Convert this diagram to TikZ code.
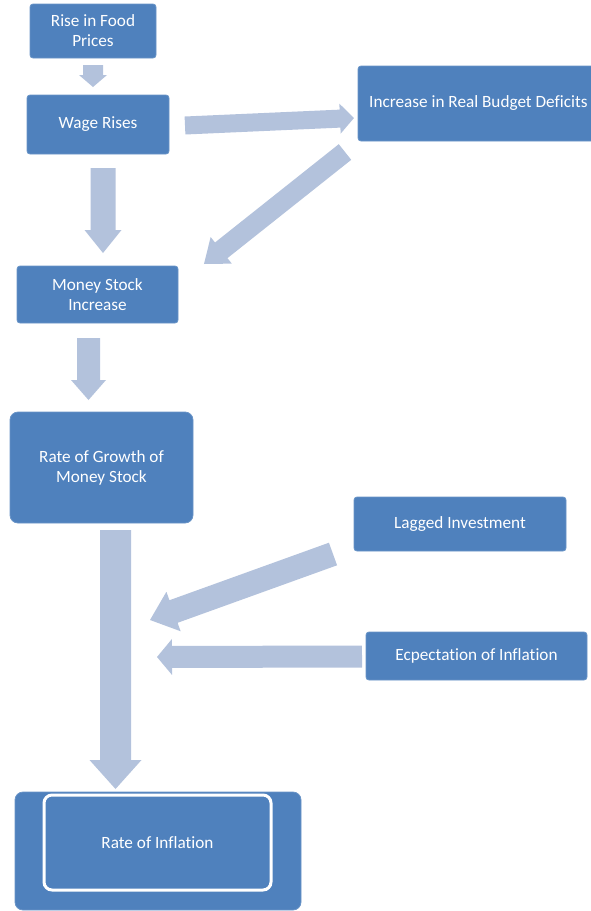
\documentclass[tikz,border=0pt]{standalone}
\usepackage{fontspec}
\setmainfont{Carlito}[Ligatures=NoCommon]
\usetikzlibrary{calc}
\definecolor{boxc}{HTML}{4F81BD}
\definecolor{arrowc}{HTML}{B3C2DC}
\newcommand\blockarrow[5]{%
  \fill[arrowc] let \p1=(#1), \p2=(#2),
    \n1={atan2(\y2-\y1,\x2-\x1)}, \n2={veclen(\x2-\x1,\y2-\y1)} in
    [shift={(\p1)}, rotate=\n1]
    (0pt,-#3pt) -- ({\n2*1pt-#5pt},-#3pt) -- ({\n2*1pt-#5pt},-#4pt) --
    ({\n2*1pt},0pt) -- ({\n2*1pt-#5pt},#4pt) -- ({\n2*1pt-#5pt},#3pt) --
    (0pt,#3pt) -- cycle;}
\begin{document}
\begin{tikzpicture}[x=1pt,y=-1pt,
  box/.style={fill=boxc, draw=boxc!85!white, line width=0.8pt, rounded corners=3pt,
    text=white, font=\fontsize{17.2}{20}\selectfont, align=center, inner sep=0pt},
  lbl/.style={text=white, font=\fontsize{17.2}{20}\selectfont, align=center, inner sep=0pt}]
\useasboundingbox (0,0) rectangle (591,911);

\node[box, minimum width=126pt, minimum height=54pt] (food) at (93,31) {Rise in Food\\Prices};
\node[box, minimum width=142pt, minimum height=59pt] (wage) at (98,124.5) {Wage Rises};
\node[box, minimum width=242pt, minimum height=75pt] (deficit) at (479,103.5) {};
\node[lbl, anchor=west] (deficitt) at (369,103) {Increase in Real Budget Deficits};
\node[box, minimum width=161pt, minimum height=57pt] (money) at (97.5,294.5) {Money Stock\\Increase};
\node[box, rounded corners=8pt, minimum width=183pt, minimum height=111pt] (growth) at (101.5,467.5) {Rate of Growth of\\Money Stock};
\node[box, minimum width=212pt, minimum height=54pt] (lagged) at (460,524) {Lagged Investment};
\node[box, minimum width=221pt, minimum height=48pt] (expect) at (476.5,656) {Ecpectation of Inflation};
\node[box, rounded corners=8pt, minimum width=286pt, minimum height=118pt] (inflout) at (158,851) {};
\node[box, draw=white, line width=3pt, rounded corners=8pt, minimum width=227pt, minimum height=95pt] (infl) at (157.5,842.5) {Rate of Inflation};

\coordinate (a1s) at (93,65);   \coordinate (a1e) at (93,87);
\coordinate (a2s) at (103,168); \coordinate (a2e) at (103,253);
\coordinate (a3s) at (185,125.5); \coordinate (a3e) at (354,118);
\coordinate (a4s) at (345,152); \coordinate (a4e) at (204,264);
\coordinate (a8s) at (88.5,338); \coordinate (a8e) at (88.5,400);
\coordinate (a5s) at (115.5,530); \coordinate (a5e) at (115.5,789);
\coordinate (a6s) at (333,554); \coordinate (a6e) at (150,620);
\coordinate (a7s) at (362,656.5); \coordinate (a7e) at (157,657);

\blockarrow{a1s}{a1e}{10}{14}{12}
\blockarrow{a2s}{a2e}{12.5}{18.5}{23}
\blockarrow{a3s}{a3e}{9}{15}{14}
\blockarrow{a4s}{a4e}{10}{17}{22}
\blockarrow{a8s}{a8e}{11.5}{17.5}{20}
\blockarrow{a5s}{a5e}{15.5}{26}{29}
\blockarrow{a6s}{a6e}{12}{21}{25}
\blockarrow{a7s}{a7e}{11}{18}{15}
\end{tikzpicture}
\end{document}
